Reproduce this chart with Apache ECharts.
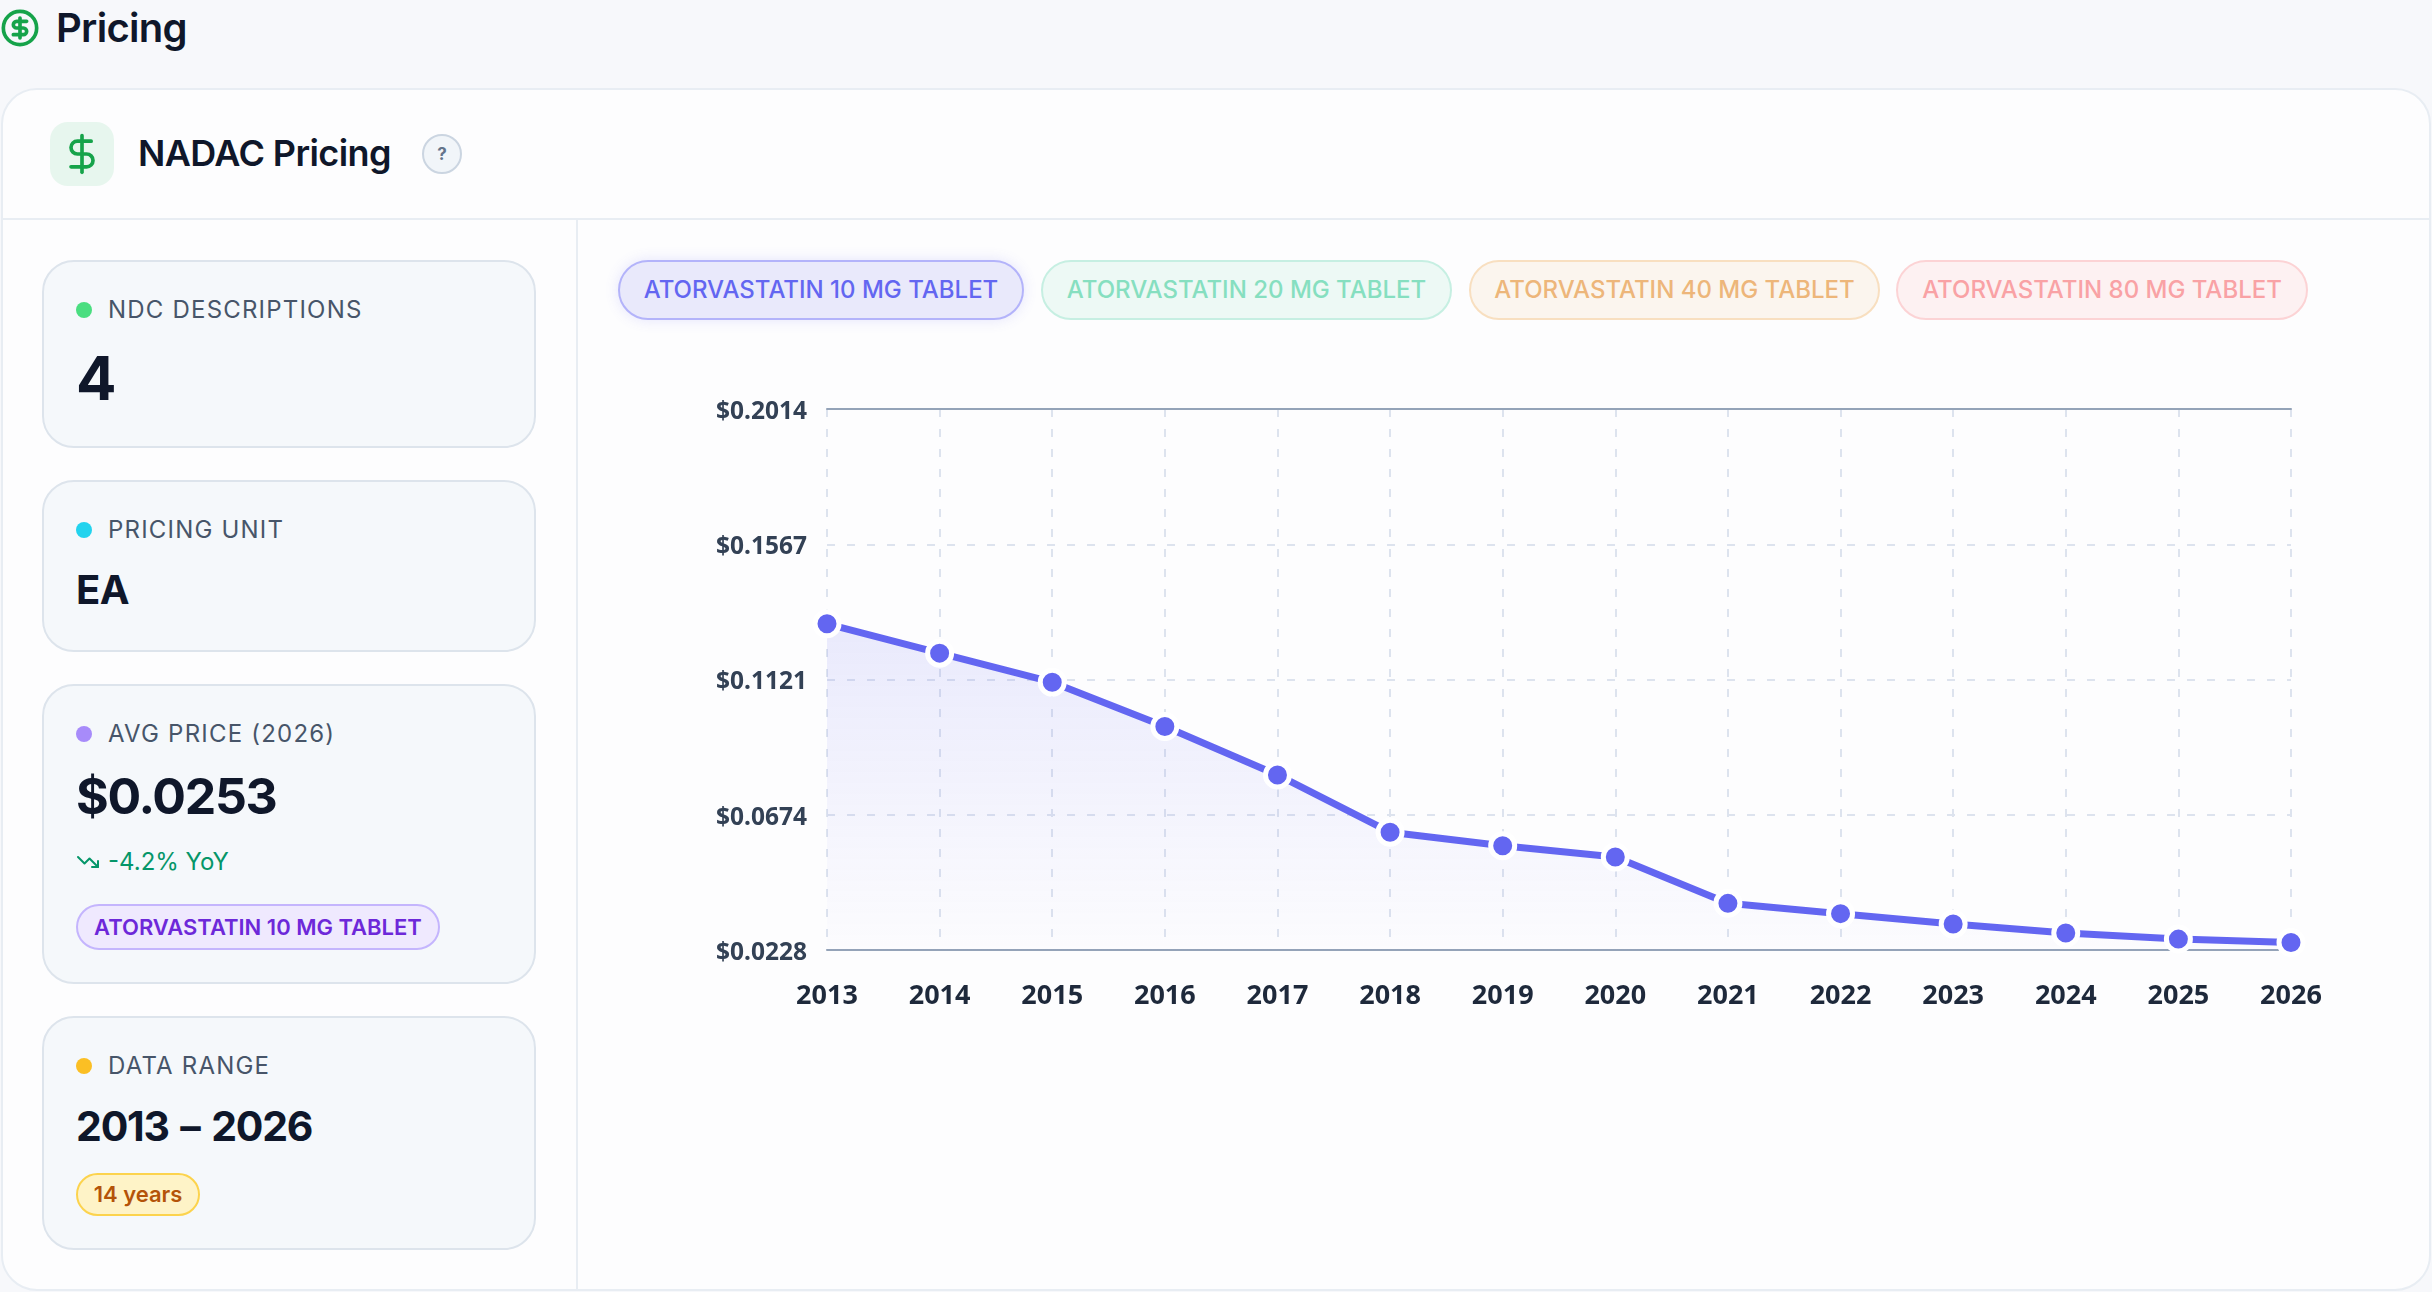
<!DOCTYPE html>
<html lang="en">
<head>
<meta charset="utf-8">
<title>NADAC Pricing</title>
<script src="https://cdn.jsdelivr.net/npm/echarts@6/dist/echarts.min.js"></script>
<style>
  html, body { margin: 0; padding: 0; width: 2432px; height: 1292px; overflow: hidden; background: #f7f8fb; font-family: Inter, sans-serif; color: #0f172a; }
  .abs { position: absolute; box-sizing: border-box; white-space: nowrap; }
  .panel { left: 1px; top: 88px; width: 2430px; height: 1203px; background: #fdfdfe; border: 2px solid #e8edf3; border-radius: 36px; }
  .rule { background: #e8edf3; }
  .stat { left: 42px; width: 494px; background: #f5f8fb; border: 2px solid #dde4ec; border-radius: 32px; }
  .dot { left: 76px; width: 16px; height: 16px; border-radius: 50%; }
  .label { left: 108px; font-size: 24px; line-height: 30px; letter-spacing: 1.2px; color: #475569; }
  .value { left: 76px; font-weight: 700; color: #0f172a; }
  .pill { left: 76px; border-radius: 24px; border: 2px solid; font-weight: 600; font-size: 22px; text-align: center; }
  .chip { top: 260px; height: 60px; line-height: 56px; border-radius: 30px; border: 2px solid; font-size: 24px; font-weight: 500; text-align: center; }
  svg { position: absolute; fill: none; stroke-linecap: round; stroke-linejoin: round; }
  #chart { left: 580px; top: 330px; width: 1850px; height: 770px; }
</style>
</head>
<body>
<svg style="left:0;top:8px" width="40" height="40" viewBox="0 0 24 24" stroke="#16a34a" stroke-width="2.2"><circle cx="12" cy="12" r="10"/><path d="M16 8h-6a2 2 0 1 0 0 4h4a2 2 0 1 1 0 4H8"/><path d="M12 18V6"/></svg>
<div class="abs" style="left:56px;top:4px;font-size:40px;line-height:48px;font-weight:600;letter-spacing:-0.7px">Pricing</div>

<div class="abs panel"></div>
<div class="abs" style="left:50px;top:122px;width:64px;height:64px;border-radius:18px;background:#e7f6ee"></div>
<svg style="left:60px;top:132px" width="44" height="44" viewBox="0 0 24 24" stroke="#16a34a" stroke-width="2"><line x1="12" x2="12" y1="2" y2="22"/><path d="M17 5H9.5a3.5 3.5 0 0 0 0 7h5a3.5 3.5 0 0 1 0 7H6"/></svg>
<div class="abs" style="left:138px;top:130px;font-size:36px;line-height:46px;font-weight:600;letter-spacing:-0.6px">NADAC Pricing</div>
<div class="abs" style="left:422px;top:134px;width:40px;height:40px;border-radius:50%;background:#f1f5f9;border:2px solid #cbd5e1;color:#64748b;font-size:17px;font-weight:700;line-height:36px;text-align:center">?</div>
<div class="abs rule" style="left:2px;top:218px;width:2428px;height:2px"></div>
<div class="abs rule" style="left:576px;top:219px;width:2px;height:1071px"></div>

<div class="abs stat" style="top:260px;height:188px"></div>
<div class="abs dot" style="top:302px;background:#4ade80"></div>
<div class="abs label" style="top:295px">NDC DESCRIPTIONS</div>
<div class="abs value" style="top:342px;font-size:60px;line-height:72px">4</div>

<div class="abs stat" style="top:480px;height:172px"></div>
<div class="abs dot" style="top:522px;background:#22d3ee"></div>
<div class="abs label" style="top:515px">PRICING UNIT</div>
<div class="abs value" style="top:566px;font-size:40px;line-height:48px;letter-spacing:-0.5px">EA</div>

<div class="abs stat" style="top:684px;height:300px"></div>
<div class="abs dot" style="top:726px;background:#a78bfa"></div>
<div class="abs label" style="top:719px">AVG PRICE (2026)</div>
<div class="abs value" style="top:764px;font-size:50px;line-height:64px;letter-spacing:-1.3px">$0.0253</div>
<svg style="left:76px;top:850px" width="24" height="24" viewBox="0 0 24 24" stroke="#059669" stroke-width="2"><polyline points="22 17 13.5 8.5 8.5 13.5 2 7"/><polyline points="16 17 22 17 22 11"/></svg>
<div class="abs" style="left:108px;top:847px;font-size:24px;line-height:30px;color:#059669">-4.2% YoY</div>
<div class="abs pill" style="top:904px;width:364px;height:46px;line-height:42px;background:#efe9fe;border-color:#c4b5fd;color:#6d28d9">ATORVASTATIN 10 MG TABLET</div>

<div class="abs stat" style="top:1016px;height:234px"></div>
<div class="abs dot" style="top:1058px;background:#fbbf24"></div>
<div class="abs label" style="top:1051px">DATA RANGE</div>
<div class="abs value" style="top:1100px;font-size:41px;line-height:52px;letter-spacing:-1.2px;word-spacing:3px">2013 – 2026</div>
<div class="abs pill" style="top:1173px;width:124px;height:43px;line-height:39px;background:#fef3c7;border-color:#fcd34d;color:#b45309">14 years</div>

<div class="abs chip" style="left:618px;width:406px;background:#e9e9fb;border-color:#b3b3fa;color:#6366f1;box-shadow:0 0 14px rgba(99,102,241,.16)">ATORVASTATIN 10 MG TABLET</div>
<div class="abs chip" style="left:1041px;width:411px;background:#edf9f5;border-color:#c6efe2;color:#86dfc0">ATORVASTATIN 20 MG TABLET</div>
<div class="abs chip" style="left:1469px;width:411px;background:#fbf5ee;border-color:#f8dfc0;color:#edb67a">ATORVASTATIN 40 MG TABLET</div>
<div class="abs chip" style="left:1896px;width:412px;background:#fdf1f2;border-color:#fcd3d5;color:#f9a2a5">ATORVASTATIN 80 MG TABLET</div>

<div class="abs" id="chart"></div>

<script>
  // NADAC price per unit for the 10 mg tablet, one point per year
  const years = ['2013','2014','2015','2016','2017','2018','2019','2020','2021','2022','2023','2024','2025','2026'];
  const prices = [0.1305,0.1208,0.1112,0.0966,0.0806,0.0617,0.0572,0.0535,0.0382,0.0348,0.0314,0.0284,0.0264,0.0253];
  const priceTicks = [0.0228,0.0674,0.1121,0.1567,0.2014];

  const gridLine = { color: '#dde3ee', width: 2, type: [8, 12] };
  const chart = echarts.init(document.getElementById('chart'), null, { renderer: 'canvas' });
  chart.setOption({
    animation: false,
    grid: { left: 247, right: 139, top: 79, bottom: 150 },
    xAxis: [
      {
        type: 'category', data: years, boundaryGap: false, position: 'bottom',
        axisLine: { lineStyle: { color: '#94a3b8', width: 2 } },
        axisTick: { show: false },
        axisLabel: { color: '#1e293b', fontFamily: 'Noto Sans', fontWeight: 700, fontSize: 27, margin: 33, interval: 0 },
        splitLine: { show: true, lineStyle: gridLine }
      },
      {
        type: 'category', data: years, boundaryGap: false, position: 'top',
        axisLine: { lineStyle: { color: '#94a3b8', width: 2 } },
        axisTick: { show: false }, axisLabel: { show: false }, splitLine: { show: false }
      }
    ],
    yAxis: {
      type: 'value', min: priceTicks[0], max: priceTicks[priceTicks.length - 1],
      axisLine: { show: false },
      axisTick: { show: false, customValues: priceTicks },
      axisLabel: {
        customValues: priceTicks, color: '#334155', fontFamily: 'Noto Sans', fontWeight: 700, fontSize: 24.5, margin: 20,
        verticalAlign: 'top', lineHeight: 6,
        formatter: v => '$' + v.toFixed(4)
      },
      splitLine: { show: true, lineStyle: gridLine }
    },
    series: [{
      type: 'line', data: prices, xAxisIndex: 0,
      showSymbol: true, symbol: 'circle', symbolSize: 24, z: 5,
      lineStyle: { color: '#6366f1', width: 7 },
      itemStyle: { color: '#6366f1', borderColor: '#ffffff', borderWidth: 5 },
      areaStyle: {
        color: new echarts.graphic.LinearGradient(0, 0, 0, 1, [
          { offset: 0, color: 'rgba(99,102,241,0.18)' },
          { offset: 1, color: 'rgba(99,102,241,0.01)' }
        ])
      }
    }]
  });
</script>
</body>
</html>
